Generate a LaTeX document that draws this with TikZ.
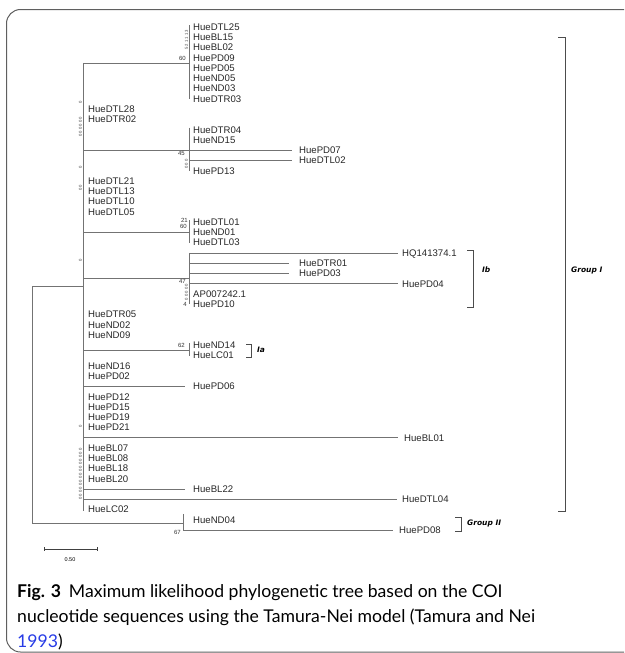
\documentclass[tikz,border=0pt]{standalone}
\usepackage{fontspec}
\setmainfont{Lato}
\newfontfamily\treefont{Liberation Sans}
\newfontfamily\grpfont{DejaVu Sans}
\definecolor{branch}{RGB}{115,115,115}
\definecolor{frame}{RGB}{95,95,95}
\definecolor{citeblue}{RGB}{40,60,230}

\tikzset{
  leaf/.style={anchor=west,inner sep=0pt,text height=6.6pt,text depth=0pt,
    text=black!85,font=\treefont\fontsize{9.6}{9.6}\selectfont},
  boot/.style={anchor=east,inner sep=0pt,text=black!80,font=\treefont\fontsize{6}{6}\selectfont},
  stack/.style={inner sep=0pt,rotate=90,text=black!75,font=\treefont\fontsize{4.2}{4.2}\selectfont},
  grp/.style={anchor=west,inner sep=0pt,font=\grpfont\bfseries\itshape\fontsize{7.5}{8}\selectfont},
  br/.style={draw=branch,line width=0.75pt},
  brace/.style={draw=black!70,line width=0.7pt},
  captext/.style={anchor=base west,inner sep=0pt,font=\fontsize{17.6}{22}\selectfont},
}

\begin{document}
\begin{tikzpicture}[x=1pt,y=-1pt,declare function={ry(\k)=27+10.27*\k;}]
\useasboundingbox (0,0) rectangle (624,653);
% frame of the figure
\begin{scope}
\clip (0,0) rectangle (624,653);
\draw[frame,line width=1pt,rounded corners=14pt] (6.5,9.5) rectangle (680,652);
\end{scope}

% leaf labels, one row each
\foreach \r/\lx/\nm in {0/193/HueDTL25,1/193/HueBL15,2/193/HueBL02,3/193/HuePD09,
    4/193/HuePD05,5/193/HueND05,6/193/HueND03,7/193/HueDTR03,
    8/88/HueDTL28,9/88/HueDTR02,
    10/193/HueDTR04,11/193/HueND15,12/299/HuePD07,13/299/HueDTL02,14/193/HuePD13,
    15/88/HueDTL21,16/88/HueDTL13,17/88/HueDTL10,18/88/HueDTL05,
    19/193/HueDTL01,20/193/HueND01,21/193/HueDTL03,
    22/402/HQ141374.1,23/299/HueDTR01,24/299/HuePD03,25/402/HuePD04,
    26/193/AP007242.1,27/193/HuePD10,
    28/88/HueDTR05,29/88/HueND02,30/88/HueND09,
    31/193/HueND14,32/193/HueLC01,
    33/88/HueND16,34/88/HuePD02,35/193/HuePD06,
    36/88/HuePD12,37/88/HuePD15,38/88/HuePD19,39/88/HuePD21,40/404/HueBL01,
    41/88/HueBL07,42/88/HueBL08,43/88/HueBL18,44/88/HueBL20,
    45/193/HueBL22,46/402/HueDTL04,47/88/HueLC02,
    48/193/HueND04,49/399/HuePD08}
  \node[leaf] (l\r) at (\lx,{ry(\r)}) {\nm};

% inner nodes
\coordinate (root) at (32,286);
\coordinate (gI) at (83,286);
\coordinate (gII) at (183,523);
\coordinate (gItop) at (83,{ry(3.5)});
\coordinate (gIbot) at (83,{ry(47)+1});
\coordinate (cA) at (189,{ry(3.5)});
\coordinate (cB) at (189,{ry(12)});
\coordinate (cC) at (189,{ry(20)});
\coordinate (cD) at (189,278);
\coordinate (cE) at (189,{ry(31.5)});

% branches
\draw[br] (gI) -- (root) |- (gII);
\draw[br] (gItop) -- (gIbot);
\foreach \c in {cA,cB,cC,cD,cE}
  \draw[br] (gItop |- \c) -- (\c);
\draw[br] ([yshift=2pt]cA |- l0) -- (cA |- l7);
\draw[br] ([yshift=2pt]cB |- l10) -- (cB |- l14);
\draw[br] ([yshift=2pt]cC |- l19) -- (cC |- l21);
\draw[br] (cD |- l22) -- (cD |- l27);
\draw[br] ([yshift=2pt]cE |- l31) -- (cE |- l32);
\draw[br] ([yshift=6pt]gII |- l48) -- (gII |- l49);
\foreach \k/\s/\g in {12/cB/7,13/cB/7,22/cD/4,23/cD/10,24/cD/10,25/cD/4,
    35/gItop/8,40/gItop/6,45/gItop/8,46/gItop/5,49/gII/6}
  \draw[br] (\s |- l\k) -- ([xshift=-\g pt]l\k.west);

% bootstrap values
\node[boot] (b60a) at (186,58) {60};
\node[boot] (b45) at (185,153) {45};
\node[boot] (b21) at (188,220) {21};
\node[boot] (b60b) at (187,226) {60};
\node[boot] (b47) at (186,281) {47};
\node[boot] (b4) at (187,304) {4};
\node[boot] (b62) at (185,345) {62};
\node[boot] (b67) at (181,532) {67};
\foreach \y [count=\i] in {102,167,260,426}
  \node[stack] (z\i) at (80.5,\y) {0};
\node[stack] (s1) at (186.5,40) {5 2 1 1 1 3};
\node[stack] (s2) at (80.5,127) {0 0 0 0 0 0};
\node[stack] (s3) at (186.5,164) {0 0 0};
\node[stack] (s4) at (80.5,188) {0 0};
\node[stack] (s5) at (186.5,292) {0 0 0 0 0};
\node[stack] (s6) at (80.5,474) {0 0 0 0 0 0 0 0 0 0 0 0 0 0 0};

% clade brackets
\draw[brace] (246,344) -| (251,357) -- (246,357);
\node[grp] (ia) at (257,350) {Ia};
\draw[brace] (467,250) -| (473,307) -- (467,307);
\node[grp] (ib) at (482,270) {Ib};
\draw[brace] (558,37) -| (565,511) -- (558,511);
\node[grp] (grI) at (571,270) {Group I};
\draw[brace] (455,517) -| (461,531) -- (455,531);
\node[grp] (grII) at (467,523) {Group II};

% scale bar
\coordinate (sbl) at (44,549);
\coordinate (sbr) at (97,549);
\draw[draw=black!75,line width=0.7pt] (sbl) -- (sbr)
  ([yshift=2pt]sbl) -- ([yshift=-2pt]sbl) ([yshift=2pt]sbr) -- ([yshift=-2pt]sbr);
\node[inner sep=0pt,font=\treefont\fontsize{5.5}{6}\selectfont] (sbt) at (70,560) {0.50};

% caption
\node[captext] (cap1) at (17,597) {\textbf{Fig. 3}\hspace{0.45em}Maximum likelihood phylogenetic tree based on the COI};
\node[captext] (cap2) at (17,622) {nucleotide sequences using the Tamura-Nei model (Tamura and Nei};
\node[captext] (cap3) at (17,647) {\textcolor{citeblue}{1993})};
\end{tikzpicture}
\end{document}
